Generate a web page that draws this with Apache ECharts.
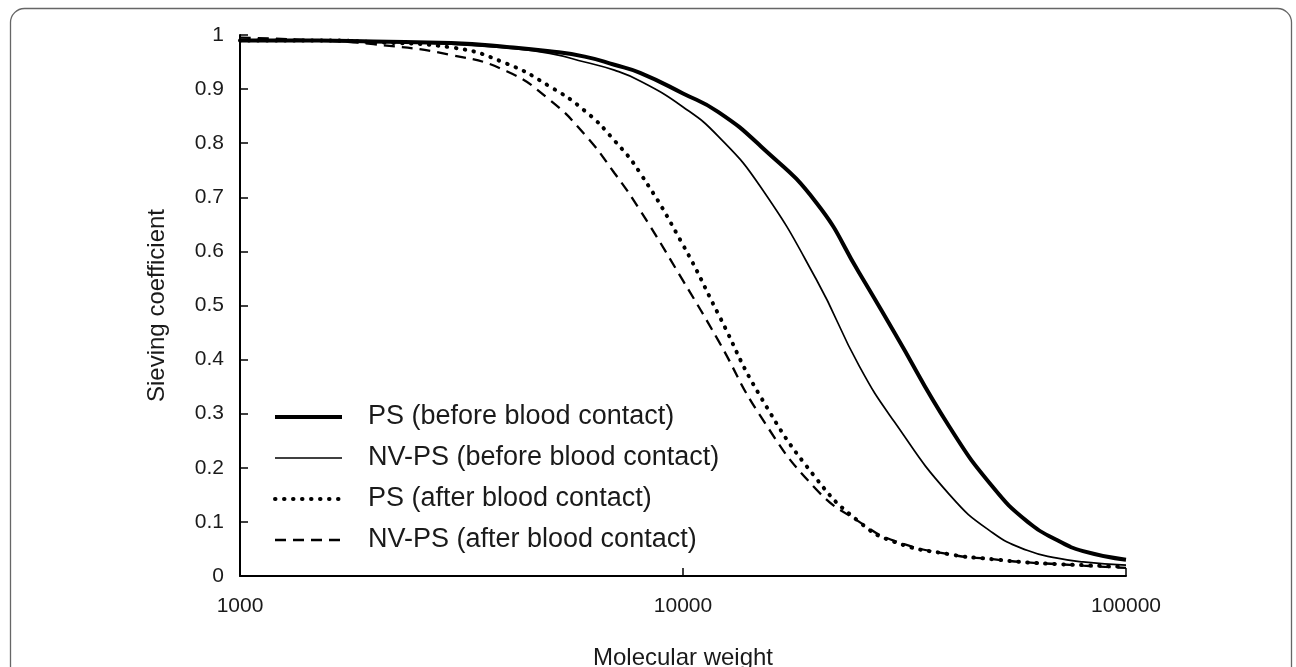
<!DOCTYPE html>
<html>
<head>
<meta charset="utf-8">
<script src="https://cdn.jsdelivr.net/npm/echarts@6/dist/echarts.min.js"></script>
<style>
html,body{margin:0;padding:0;background:#fff;}
#chart{width:1296px;height:667px;}
</style>
</head>
<body>
<div id="chart"></div>
<script>
const molecularWeights = [1000, 1500, 2000, 3000, 4000, 5000, 6000, 7000, 8000, 10000, 12000, 15000, 20000, 25000, 30000, 40000, 50000, 60000, 70000, 80000, 100000];
const psBefore   = [0.99, 0.99, 0.988, 0.985, 0.978, 0.97, 0.96, 0.945, 0.93, 0.892, 0.858, 0.794, 0.69, 0.56, 0.45, 0.275, 0.165, 0.10, 0.066, 0.046, 0.03];
const nvpsBefore = [0.99, 0.99, 0.988, 0.983, 0.976, 0.966, 0.95, 0.935, 0.915, 0.867, 0.813, 0.718, 0.548, 0.388, 0.285, 0.15, 0.08, 0.047, 0.033, 0.026, 0.02];
const psAfter    = [0.99, 0.99, 0.987, 0.977, 0.947, 0.905, 0.86, 0.805, 0.745, 0.612, 0.485, 0.33, 0.18, 0.10, 0.063, 0.04, 0.031, 0.025, 0.022, 0.02, 0.017];
const nvpsAfter  = [0.995, 0.99, 0.983, 0.963, 0.933, 0.88, 0.816, 0.745, 0.676, 0.546, 0.436, 0.294, 0.16, 0.10, 0.065, 0.04, 0.031, 0.025, 0.022, 0.019, 0.015];
const seriesNames = ['PS (before blood contact)', 'NV-PS (before blood contact)', 'PS (after blood contact)', 'NV-PS (after blood contact)'];
const xTickLabels = ['1000', '10000', '100000'];
const yTickLabels = ['0', '0.1', '0.2', '0.3', '0.4', '0.5', '0.6', '0.7', '0.8', '0.9', '1'];

const pairs = arr => molecularWeights.map((m, i) => [m, arr[i]]);
const FONT = '"Liberation Sans", Arial, sans-serif';
const TXT = '#1a1a1a';

const chart = echarts.init(document.getElementById('chart'), null, {renderer: 'canvas'});
const lineStyles = [
  {width: 4, type: 'solid', cap: 'butt'},
  {width: 1.7, type: 'solid', cap: 'butt'},
  {width: 4, type: [0.5, 8.5], cap: 'round'},
  {width: 2.3, type: [11, 7], cap: 'butt'}
];
const datasets = [psBefore, nvpsBefore, psAfter, nvpsAfter];

chart.setOption({
  animation: false,
  backgroundColor: '#fff',
  graphic: [{
    type: 'rect',
    shape: {x: 10.5, y: 8.5, width: 1281, height: 720, r: 14},
    style: {fill: 'none', stroke: '#666', lineWidth: 1.3},
    silent: true
  }],
  grid: {left: 240, right: 170, top: 35, bottom: 91, containLabel: false, outerBoundsMode: 'none'},
  legend: {
    orient: 'vertical',
    left: 268,
    top: 398,
    itemWidth: 67,
    itemHeight: 14,
    itemGap: 13,
    data: seriesNames.map((n, i) => ({name: n, lineStyle: Object.assign({color: '#000'}, lineStyles[i])})),
    itemStyle: {opacity: 0, borderWidth: 0},
    lineStyle: {width: 'inherit'},
    textStyle: {fontFamily: FONT, fontSize: 27, color: TXT, padding: [0, 0, 0, 21], lineHeight: 28}
  },
  xAxis: {
    type: 'log',
    logBase: 10,
    min: 1000,
    max: 100000,
    name: 'Molecular weight',
    nameLocation: 'middle',
    nameGap: 70,
    nameTextStyle: {fontFamily: FONT, fontSize: 24, color: TXT},
    axisLine: {lineStyle: {color: '#000', width: 2}},
    axisTick: {inside: true, length: 8, lineStyle: {color: '#000', width: 1.5}},
    splitLine: {show: false},
    minorTick: {show: false},
    axisLabel: {
      fontFamily: FONT, fontSize: 21, color: TXT, margin: 20,
      formatter: v => { const s = String(Math.round(v)); return xTickLabels.includes(s) ? s : ''; }
    }
  },
  yAxis: {
    type: 'value',
    min: 0,
    max: 1,
    interval: 0.1,
    name: 'Sieving coefficient',
    nameLocation: 'middle',
    nameGap: 71,
    nameRotate: 90,
    nameTextStyle: {fontFamily: FONT, fontSize: 24, color: TXT},
    axisLine: {show: true, lineStyle: {color: '#000', width: 2}},
    axisTick: {show: true, inside: true, length: 8, lineStyle: {color: '#000', width: 1.5}},
    splitLine: {show: false},
    axisLabel: {
      fontFamily: FONT, fontSize: 21, color: TXT, margin: 16,
      formatter: v => yTickLabels[Math.round(v * 10)]
    }
  },
  series: seriesNames.map((name, i) => ({
    name: name,
    type: 'line',
    data: pairs(datasets[i]),
    symbol: 'none',
    smooth: 0.5,
    color: '#000',
    lineStyle: Object.assign({color: '#000'}, lineStyles[i])
  }))
});
</script>
</body>
</html>
